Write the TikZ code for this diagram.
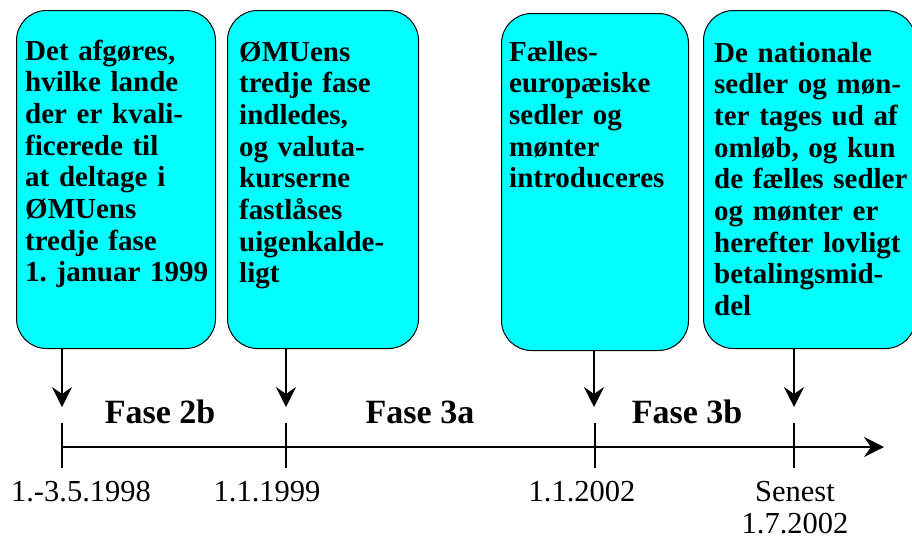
\documentclass[tikz,border=0pt]{standalone}
\usepackage{fontspec}
\setmainfont{Liberation Serif}
\usetikzlibrary{arrows.meta}
\definecolor{boxcyan}{HTML}{00FFFF}
\frenchspacing
\tikzset{
 box/.style={draw=black, line width=1pt, fill=boxcyan, rounded corners=30pt, anchor=north west, inner sep=0pt},
 boxtext/.style={anchor=base west, inner sep=0pt, align=left, text width=200pt, font=\fontsize{29}{31.7}\selectfont\bfseries},
 phase/.style={anchor=base, inner sep=0pt, font=\fontsize{34}{40}\selectfont\bfseries},
 datelbl/.style={anchor=base, inner sep=0pt, align=center, text width=180pt, font=\fontsize{30.5}{32}\selectfont},
 pointer/.style={line width=1.5pt, -{Stealth[length=20pt,width=20pt,inset=7pt]}},
 ticker/.style={line width=1.3pt},
}
\begin{document}
\begin{tikzpicture}[x=1pt,y=-1pt]
\useasboundingbox (0,0) rectangle (912,539);
% boxes
\node[box, minimum width=199pt, minimum height=338pt] (b1) at (16,10) {};
\node[box, minimum width=191pt, minimum height=338pt] (b2) at (227,10) {};
\node[box, minimum width=187pt, minimum height=337pt] (b3) at (501,13) {};
\node[box, minimum width=212pt, minimum height=338pt] (b4) at (703,10) {};
% box texts
\node[boxtext] (x1) at (25,60) {Det afgøres,\\hvilke lande\\der er kvali-\\ficerede til\\at deltage i\\ØMUens\\tredje fase\\1. januar 1999};
\node[boxtext] (x2) at (239,61) {ØMUens\\tredje fase\\indledes,\\og valuta-\\kurserne\\fastlåses\\uigenkalde-\\ligt};
\node[boxtext] (x3) at (509,61) {Fælles-\\europæiske\\sedler og\\mønter\\introduceres};
\node[boxtext] (x4) at (714,62) {De nationale\\sedler og møn-\\ter tages ud af\\omløb, og kun\\de fælles sedler\\og mønter er\\herefter lovligt\\betalingsmid-\\del};
% axis points
\coordinate (t1) at (62,447);
\coordinate (t2) at (286,447);
\coordinate (t3) at (595,447);
\coordinate (t4) at (794,447);
\coordinate (axend) at (884,447);
\coordinate (p1) at (62,407);
\coordinate (p2) at (286,407);
\coordinate (p3) at (594,407);
\coordinate (p4) at (794,407);
% pointers
\draw[pointer] (b1.south -| p1) -- (p1);
\draw[pointer] (b2.south -| p2) -- (p2);
\draw[pointer] (b3.south -| p3) -- (p3);
\draw[pointer] (b4.south -| p4) -- (p4);
% axis
\draw[pointer] (t1) -- (axend);
\foreach \t in {t1,t2,t3,t4} \draw[ticker] (\t) ++(0,-24) -- ++(0,45);
% phase labels
\node[phase] (f1) at (160,423) {Fase 2b};
\node[phase] (f2) at (420,423) {Fase 3a};
\node[phase] (f3) at (687,423) {Fase 3b};
% dates
\node[datelbl] (d1) at (81,501) {1.-3.5.1998};
\node[datelbl] (d2) at (267,501) {1.1.1999};
\node[datelbl] (d3) at (582,501) {1.1.2002};
\node[datelbl] (d4) at (795,501) {Senest\\1.7.2002};
\end{tikzpicture}
\end{document}
